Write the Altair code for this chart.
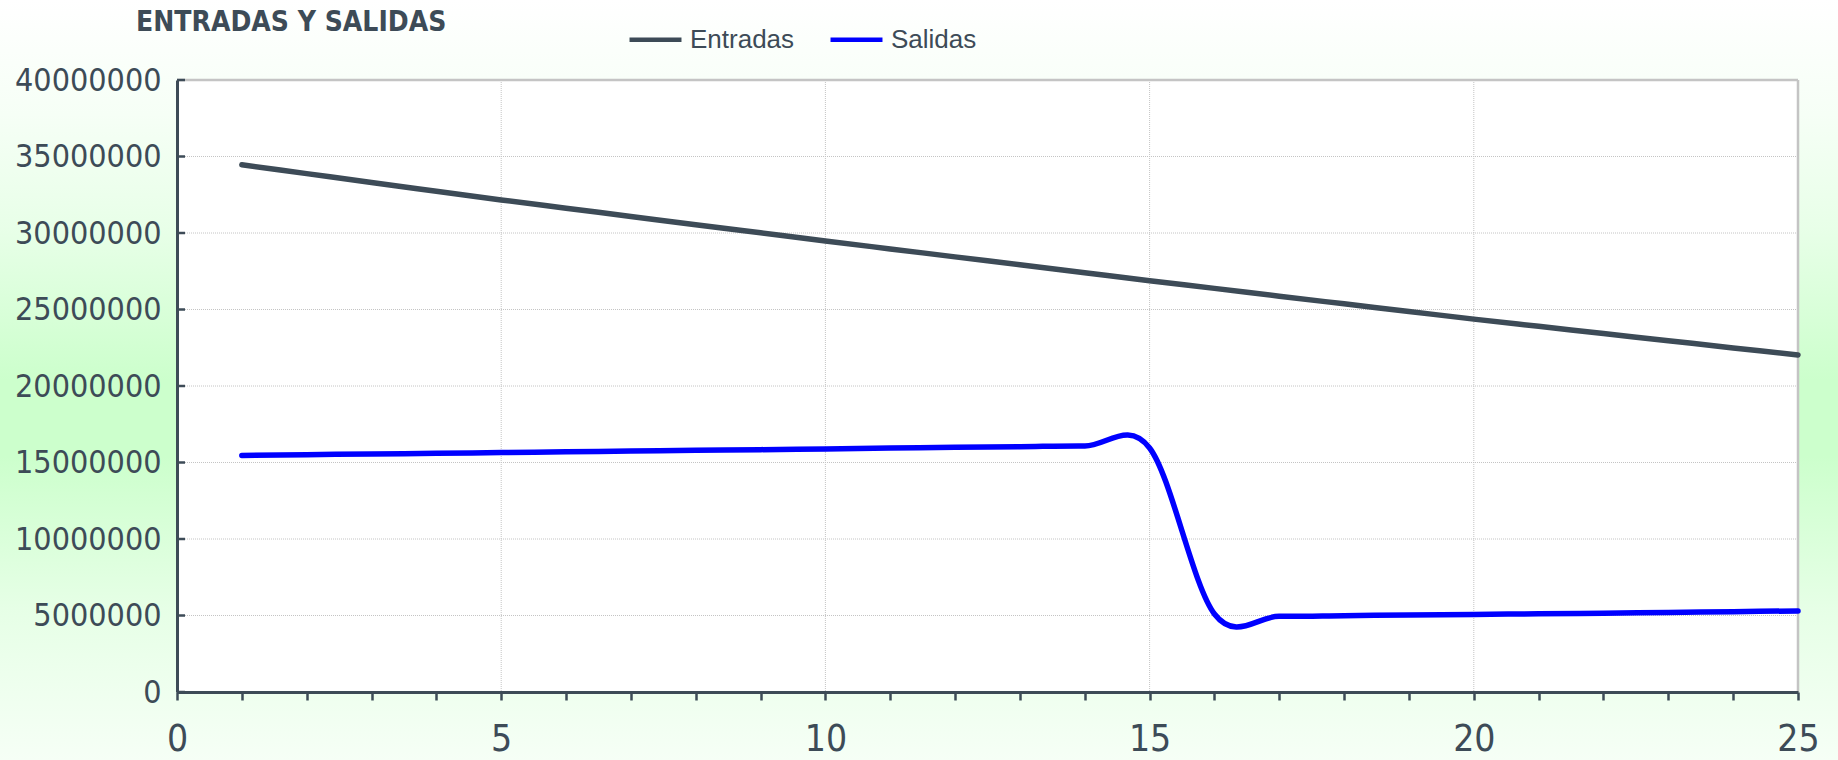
import altair as alt
import pandas as pd

# Daily figures (day 1..25)
dias = list(range(1, 26))
entradas = [
    34460000, 33880000, 33300000, 32730000, 32160000,
    31620000, 31080000, 30540000, 30010000, 29480000,
    28960000, 28440000, 27920000, 27400000, 26880000,
    26380000, 25870000, 25370000, 24870000, 24370000,
    23900000, 23430000, 22960000, 22490000, 22030000,
]
salidas = [
    15460000, 15510000, 15560000, 15600000, 15650000,
    15700000, 15750000, 15800000, 15840000, 15890000,
    15940000, 15990000, 16030000, 16080000, 15950000,
    5100000, 4950000, 4990000, 5030000, 5070000,
    5110000, 5150000, 5200000, 5250000, 5300000,
]
series = ["Entradas", "Salidas"]
series_colors = ["#3d4b57", "#0000ff"]

y_ticks = list(range(0, 40000001, 5000000))
x_ticks = list(range(0, 26))
x_grid = [5, 10, 15, 20]

W, H = 1621, 612
PAD = {"left": 177, "top": 80, "right": 40, "bottom": 68}
INK = "#3d4b57"
NUM_FONT = "DejaVu Sans Condensed"

df = pd.DataFrame({
    "dia": dias * 2,
    "valor": entradas + salidas,
    "serie": ["Entradas"] * len(dias) + ["Salidas"] * len(dias),
})

x_scale = alt.Scale(domain=[0, 25], nice=False, zero=False)
y_scale = alt.Scale(domain=[0, 40000000], nice=False)

x_axis = alt.Axis(
    values=x_ticks,
    labelExpr="datum.value % 5 === 0 ? datum.label : ''",
    grid=False, title=None, zindex=1,
    domainColor=INK, domainWidth=3,
    tickColor=INK, tickWidth=2.5, tickSize=8,
    labelFont=NUM_FONT, labelFontSize=37, labelColor=INK,
    labelPadding=21, labelFlush=False, labelOverlap=False,
)
y_axis = alt.Axis(
    values=y_ticks, format="d",
    grid=False, ticks=False, tickSize=0, title=None, zindex=1,
    domainColor=INK, domainWidth=3,
    labelFont=NUM_FONT, labelFontSize=32, labelColor=INK,
    labelPadding=16, labelOverlap=False,
)

one = pd.DataFrame({"k": [0]})

# soft green wash behind the whole figure
backdrop = alt.Chart(one).mark_rect(
    color=alt.Gradient(
        gradient="linear", x1=0, x2=0, y1=0, y2=1,
        stops=[
            alt.GradientStop(color="#ffffff", offset=0),
            alt.GradientStop(color="#f6fff6", offset=0.15),
            alt.GradientStop(color="#e8ffe8", offset=0.3),
            alt.GradientStop(color="#ccffcc", offset=0.5),
            alt.GradientStop(color="#ccffcc", offset=0.6),
            alt.GradientStop(color="#e6ffe6", offset=0.8),
            alt.GradientStop(color="#f6fff6", offset=1),
        ],
    )
).encode(
    x=alt.value(-PAD["left"]), x2=alt.value(W + PAD["right"]),
    y=alt.value(-PAD["top"]), y2=alt.value(H + PAD["bottom"]),
)

panel = alt.Chart(one).mark_rect(color="white").encode(
    x=alt.value(0), x2=alt.value(W), y=alt.value(0), y2=alt.value(H)
)

hgrid = alt.Chart(pd.DataFrame({"v": y_ticks[1:-1]})).mark_rule(
    color="#c4c4c4", strokeWidth=1, strokeDash=[1, 1]
).encode(y=alt.Y("v:Q", scale=y_scale, axis=y_axis))

vgrid = alt.Chart(pd.DataFrame({"v": x_grid})).mark_rule(
    color="#c4c4c4", strokeWidth=1, strokeDash=[1, 1]
).encode(x=alt.X("v:Q", scale=x_scale, axis=x_axis))

# plot frame on the top and right sides
frame_top = alt.Chart(one).mark_rule(color="#c4c4c4", strokeWidth=2.5).encode(
    x=alt.value(0), x2=alt.value(W), y=alt.value(0)
)
frame_right = alt.Chart(one).mark_rule(color="#c4c4c4", strokeWidth=2.5).encode(
    x=alt.value(W), y=alt.value(0), y2=alt.value(H)
)

# short inward ticks on the value axis
yticks = alt.Chart(pd.DataFrame({"v": y_ticks})).mark_rule(
    color=INK, strokeWidth=2.5
).encode(
    y=alt.Y("v:Q", scale=y_scale, axis=y_axis),
    x=alt.value(0), x2=alt.value(8),
)

lines = alt.Chart(df).mark_line(
    interpolate="cardinal", tension=0, strokeWidth=5.5,
    strokeCap="round", strokeJoin="round",
).encode(
    x=alt.X("dia:Q", scale=x_scale, axis=x_axis),
    y=alt.Y("valor:Q", scale=y_scale, axis=y_axis),
    color=alt.Color(
        "serie:N",
        scale=alt.Scale(domain=series, range=series_colors),
        legend=alt.Legend(
            title=None, orient="none", legendX=450, legendY=-69,
            direction="horizontal", symbolType="stroke",
            symbolSize=2700, symbolStrokeWidth=4.5,
            labelFont="Liberation Sans", labelFontSize=26,
            labelColor=INK, labelOffset=6, columnPadding=26, padding=0,
        ),
    ),
)

chart = alt.layer(
    backdrop, panel, hgrid, vgrid, frame_top, frame_right, yticks, lines
).properties(
    width=W, height=H,
    padding=PAD,
    autosize=alt.AutoSizeParams(type="none"),
    title=alt.TitleParams(
        "ENTRADAS Y SALIDAS", anchor="start", frame="group",
        font=NUM_FONT, fontSize=28, fontWeight="bold", color=INK,
        dx=-41, dy=57, offset=20,
    ),
).configure_view(stroke=None)

chart.save("out.html", embed_options={"renderer": "svg", "actions": False})
